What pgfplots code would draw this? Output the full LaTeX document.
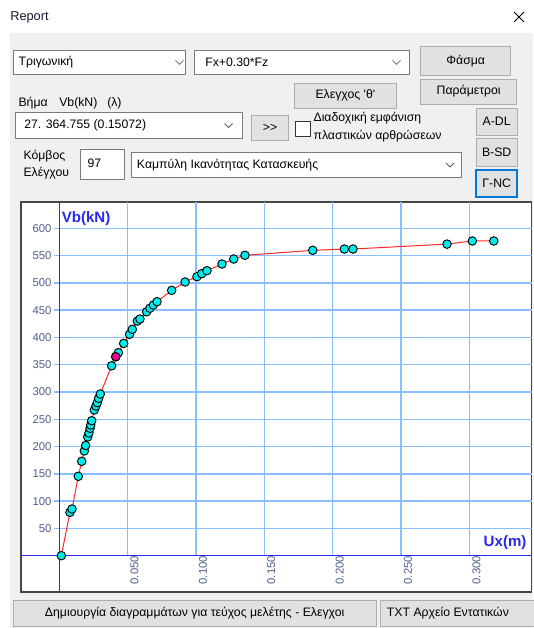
\documentclass[border=0pt]{standalone}
\usepackage{pgfplots}
\pgfplotsset{compat=1.18}
\usepackage{fontspec}
\setmainfont{Liberation Sans}
\newfontfamily\ui{Liberation Sans}
\definecolor{bggray}{RGB}{240,240,240}
\definecolor{btnfill}{RGB}{225,225,225}
\definecolor{btnborder}{RGB}{173,173,173}
\definecolor{boxborder}{RGB}{122,122,122}
\definecolor{focusblue}{RGB}{0,120,215}
\definecolor{gridblue}{RGB}{140,190,255}
\definecolor{axblue}{RGB}{40,40,255}
\definecolor{ticktxt}{RGB}{80,95,140}
\definecolor{labblue}{RGB}{40,40,240}
\definecolor{ptcyan}{RGB}{0,235,235}
\definecolor{framegray}{RGB}{70,70,70}
\definecolor{chev}{RGB}{96,96,96}
\newcommand\uis{\ui\fontsize{9.2}{11}\selectfont}
% combo: x1,y1,x2,y2,textx,chevx ; text
\newcommand\combo[7]{%
  \draw[boxborder, fill=white, line width=0.75pt] (#1,#2) rectangle (#3,#4);
  \node[anchor=west, inner sep=0pt, font=\uis] at (#5,{(#2+#4)/2}) {#7};
  \draw[chev, line width=0.6pt] ({#6-4},{(#2+#4)/2-2}) -- (#6,{(#2+#4)/2+2}) -- ({#6+4},{(#2+#4)/2-2});}
% button: x1,y1,x2,y2 ; text
\newcommand\btn[5]{%
  \draw[btnborder, fill=btnfill, line width=0.75pt] (#1,#2) rectangle (#3,#4);
  \node[inner sep=0pt, font=\uis] at ({(#1+#3)/2},{(#2+#4)/2}) {#5};}
\begin{document}
\begin{tikzpicture}
\begin{scope}[x=0.75pt,y=-0.75pt]
\path[use as bounding box, fill=white] (0,0) rectangle (533,628);
\fill[bggray] (10,33) rectangle (533,628);
\node[anchor=west, inner sep=0pt, font=\ui\fontsize{9.6}{11}\selectfont, text={rgb,255:red,30;green,20;blue,40}] at (10,17) {Report};
\draw[line width=0.6pt] (514,12) -- (524,22) (514,22) -- (524,12);
% row 1
\combo{13.3}{50.7}{185}{74}{18.3}{179.5}{Τριγωνική}
\combo{194}{50.7}{409.3}{74}{205}{396.5}{Fx+0.30*Fz}
\btn{420.7}{46.7}{510.7}{75}{Φάσμα}
% row 2
\btn{294}{83.3}{396.7}{108.3}{Ελεγχος \char"27θ\char"27}
\btn{420.7}{79}{516.7}{104}{Παράμετροι}
\node[anchor=west, inner sep=0pt, font=\uis] at (18.3,103) {Βήμα};
\node[anchor=west, inner sep=0pt, font=\uis] at (59,103) {Vb(kN)};
\node[anchor=west, inner sep=0pt, font=\uis] at (107,103) {(λ)};
\combo{15.7}{112.7}{242.3}{138.3}{24}{228.5}{27. 364.755 (0.15072)}
\btn{251.7}{115}{288.3}{140}{>>}
\draw[black!80, fill=white, line width=0.75pt] (295,121) rectangle (310,136.7);
\node[anchor=west, inner sep=0pt, font=\uis] at (313.3,118.5) {Διαδοχική εμφάνιση};
\node[anchor=west, inner sep=0pt, font=\uis] at (313.3,136.5) {πλαστικών αρθρώσεων};
\btn{476}{108.3}{517.3}{135}{A-DL}
\btn{476}{138.3}{517.3}{166.7}{B-SD}
\draw[focusblue, fill=btnfill, line width=1.5pt] (476,170) rectangle (517.3,196.7);
\node[inner sep=0pt, font=\uis] at (496.7,183.4) {Γ-NC};
% row 3
\node[anchor=west, inner sep=0pt, font=\uis] at (23.3,156) {Κόμβος};
\node[anchor=west, inner sep=0pt, font=\uis] at (23.3,173) {Ελέγχου};
\draw[boxborder, fill=white, line width=0.75pt] (80,149.3) rectangle (124,179.3);
\node[anchor=west, inner sep=0pt, font=\uis] at (87.3,163) {97};
\combo{131}{152.7}{461.7}{177.3}{136.7}{450}{Καμπύλη Ικανότητας Κατασκευής}
% bottom buttons
\btn{13.3}{600}{376}{626}{Δημιουργία διαγραμμάτων για τεύχος μελέτης - Ελεγχοι}
\draw[btnborder, fill=btnfill, line width=0.75pt] (380,600) rectangle (540,626);
\node[anchor=west, inner sep=0pt, font=\uis] at (386.7,613) {TXT Αρχείο Εντατικών};
\end{scope}

\begin{axis}[
  scale only axis, width=382.875pt, height=292.725pt,
  at={(15.75pt,-444pt)}, anchor=south west,
  xmin=-0.0280, xmax=0.3454, ymin=-66.5, ymax=648.7,
  xtick=\empty, ytick=\empty,
  axis line style={draw=framegray, line width=1.3pt},
  axis background/.style={fill=white},
  clip=false,
]
\pgfplotsinvokeforeach{0.05,0.1,0.15,0.2,0.25,0.3}{
  \draw[gridblue, line width=1.1pt] (axis cs:#1,0) -- (axis cs:#1,648.7);}
\pgfplotsinvokeforeach{50,100,150,200,250,300,350,400,450,500,550,600}{
  \draw[gridblue, line width=1.1pt] (axis cs:-0.004,#1) -- (axis cs:0.3454,#1);
  \node[anchor=east, inner sep=0pt, text=ticktxt, font=\ui\fontsize{8.5}{10}\selectfont, xshift=-5.7pt] at (axis cs:0,#1) {#1};}
\pgfplotsinvokeforeach{0.050,0.100,0.150,0.200,0.250,0.300}{
  \node[rotate=90, anchor=east, inner sep=0pt, text=ticktxt, font=\ui\fontsize{8.5}{10}\selectfont, yshift=-5.2pt] at (axis cs:#1,0) {#1};}
\draw[axblue, line width=1.1pt] (axis cs:-0.028,0) -- (axis cs:0.3454,0);
\draw[axblue, line width=1.1pt] (axis cs:0,-66.5) -- (axis cs:0,648.7);
\addplot[color={rgb,255:red,255;green,40;blue,40}, line width=0.75pt, mark=*, mark size=3.2pt,
  mark options={fill=ptcyan, draw=black, line width=0.7pt}] table {
x y
0.0015 0
0.0078 79.5
0.0093 85.6
0.0139 145.5
0.0164 173
0.0183 192
0.0193 202
0.0208 217.5
0.0217 225
0.0225 233.5
0.0230 239.5
0.0237 247.4
0.0256 267
0.0268 274.3
0.0278 280.4
0.0288 288.4
0.0300 296.3
0.0383 348
0.0413 364.7
0.0432 372
0.0471 389
0.0514 405.7
0.0534 414.9
0.0571 430
0.0590 433.7
0.0639 447
0.0663 453.4
0.0688 459.4
0.0715 465.5
0.0822 486.3
0.0920 501.6
0.1007 511.3
0.1042 516.8
0.1080 522.3
0.1190 534.5
0.1276 543.7
0.1358 550.5
0.1854 559.6
0.2085 562
0.2148 562
0.2836 571
0.3021 576.7
0.3178 576.7
};
\addplot[only marks, mark=*, mark size=3.2pt, mark options={fill=magenta, draw=black, line width=0.7pt}] table {
x y
0.0413 364.7
};
\end{axis}

\begin{scope}[x=0.75pt,y=-0.75pt]
\node[anchor=west, inner sep=0pt, text=labblue, font=\ui\bfseries\fontsize{11.3}{13}\selectfont] at (61.5,218.5) {Vb(kN)};
\node[anchor=east, inner sep=0pt, text=labblue, font=\ui\bfseries\fontsize{11.3}{13}\selectfont] at (526.7,542.3) {Ux(m)};
\end{scope}
\end{tikzpicture}
\end{document}
